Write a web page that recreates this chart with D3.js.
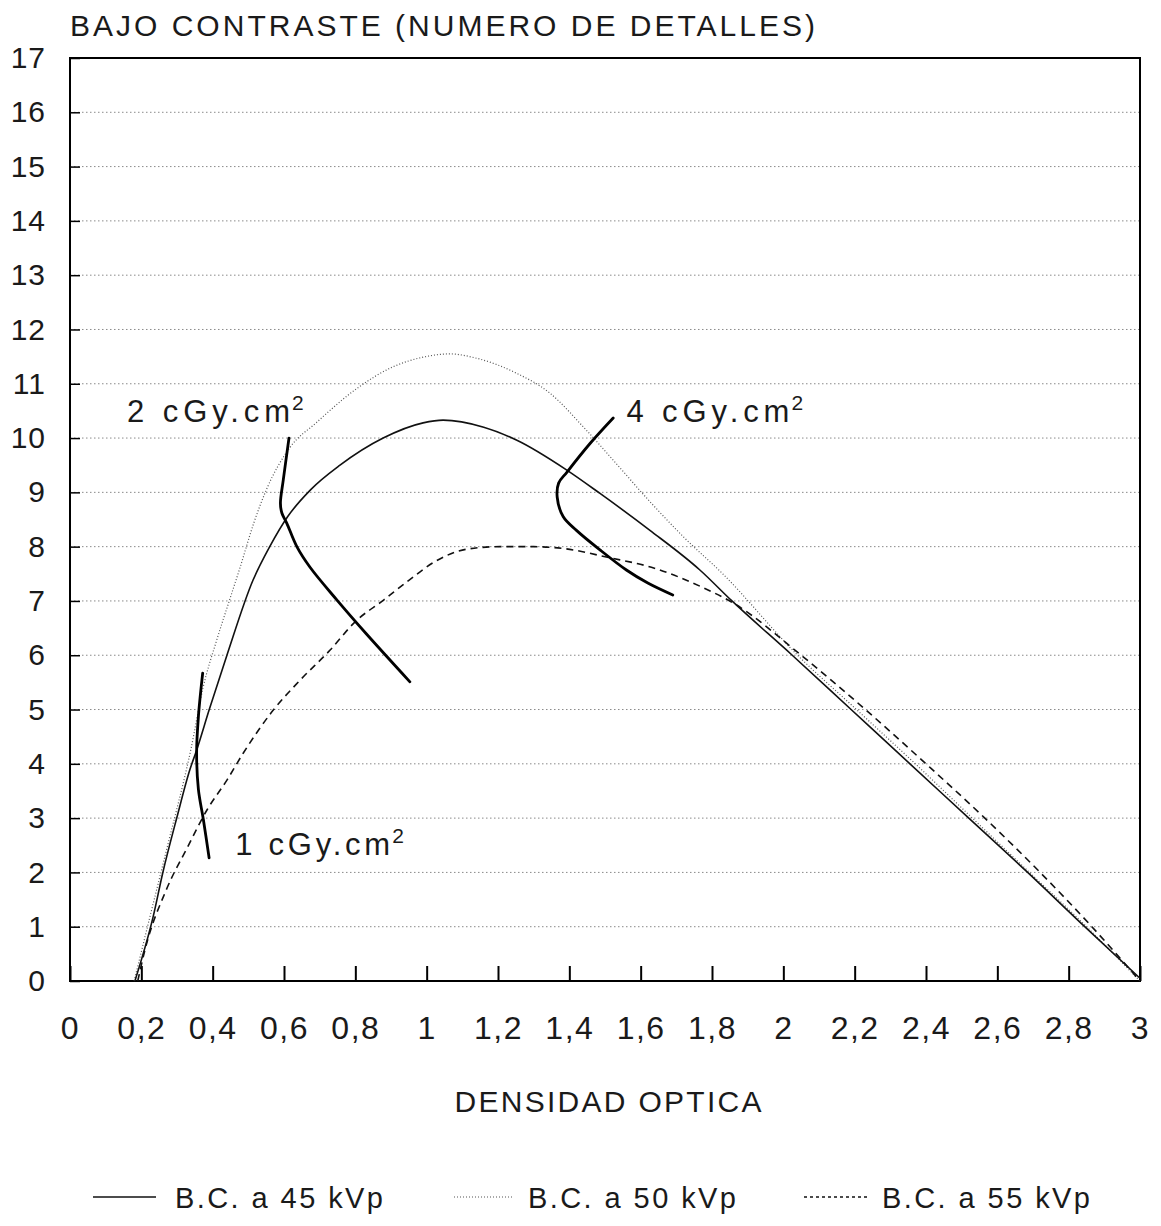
<!DOCTYPE html>
<html>
<head>
<meta charset="utf-8">
<script src="https://cdn.jsdelivr.net/npm/d3@7"></script>
<style>
  html, body { margin: 0; padding: 0; background: #fff; }
  svg { display: block; }
  text { font-family: "Liberation Sans", Arial, sans-serif; fill: #1a1a1a; }
</style>
</head>
<body>
<svg id="chart" width="1161" height="1226"></svg>
<script>
// ---------- DATA ----------
const xTicks = [0, 0.2, 0.4, 0.6, 0.8, 1, 1.2, 1.4, 1.6, 1.8, 2, 2.2, 2.4, 2.6, 2.8, 3];
const yTicks = [0, 1, 2, 3, 4, 5, 6, 7, 8, 9, 10, 11, 12, 13, 14, 15, 16, 17];

// B.C. a 45 kVp (solid)
const kvp45 = [
  [0.182, 0], [0.233, 1.18], [0.26, 1.99], [0.30, 3.02], [0.336, 3.89], [0.355, 4.25],
  [0.39, 4.99], [0.44, 6.0], [0.513, 7.38], [0.56, 8.0], [0.61, 8.55], [0.675, 9.05],
  [0.757, 9.5], [0.878, 10.0], [0.99, 10.28], [1.046, 10.33], [1.16, 10.2], [1.253, 9.96],
  [1.393, 9.41], [1.486, 8.98], [1.626, 8.3], [1.766, 7.57], [1.856, 7.0], [2.025, 6.0],
  [2.19, 5.0], [2.355, 4.0], [2.52, 3.0], [2.685, 2.0], [2.845, 1.0], [3.0, 0.05]
];
// B.C. a 50 kVp (dotted)
const kvp50 = [
  [0.18, 0], [0.224, 1.18], [0.272, 2.45], [0.34, 4.3], [0.373, 5.4], [0.41, 6.25],
  [0.45, 7.07], [0.477, 7.62], [0.515, 8.43], [0.55, 9.04], [0.617, 9.83], [0.69, 10.28],
  [0.81, 10.94], [0.905, 11.31], [0.99, 11.49], [1.065, 11.55], [1.14, 11.47], [1.25, 11.2],
  [1.345, 10.83], [1.44, 10.2], [1.53, 9.54], [1.63, 8.8], [1.72, 8.18], [1.83, 7.5],
  [2.04, 6.0], [2.205, 5.0], [2.37, 4.0], [2.53, 3.0], [2.69, 2.0], [2.85, 1.0], [3.0, 0.0]
];
// B.C. a 55 kVp (dashed)
const kvp55 = [
  [0.19, 0], [0.21, 0.57], [0.27, 1.68], [0.33, 2.47], [0.384, 3.15], [0.44, 3.7],
  [0.486, 4.2], [0.57, 4.99], [0.645, 5.54], [0.73, 6.1], [0.80, 6.62], [0.88, 7.02],
  [0.95, 7.38], [1.03, 7.75], [1.11, 7.95], [1.205, 8.0], [1.3, 8.0], [1.39, 7.96],
  [1.51, 7.8], [1.63, 7.62], [1.77, 7.26], [1.86, 6.96], [2.05, 6.0], [2.23, 5.0],
  [2.40, 4.0], [2.565, 3.0], [2.72, 2.0], [2.865, 1.0], [3.0, 0.0]
];
// iso-dose curves
const dose1 = [[0.372, 5.67], [0.36, 4.87], [0.355, 4.2], [0.36, 3.53], [0.374, 2.97], [0.39, 2.27]];
const dose2 = [[0.614, 10.0], [0.598, 9.23], [0.59, 8.8], [0.594, 8.62], [0.608, 8.43], [0.636, 8.0],
  [0.673, 7.62], [0.748, 7.02], [0.83, 6.4], [0.953, 5.51]];
const dose4 = [[1.523, 10.37], [1.458, 9.9], [1.393, 9.37], [1.37, 9.17], [1.366, 8.91], [1.383, 8.55],
  [1.42, 8.3], [1.486, 7.94], [1.56, 7.57], [1.62, 7.33], [1.69, 7.11]];

const doseLabels = [
  { text: "2 cGy.cm", sup: "2", x: 0.16, y: 10.3, len: 163 },
  { text: "4 cGy.cm", sup: "2", x: 1.56, y: 10.3, len: 163 },
  { text: "1 cGy.cm", sup: "2", x: 0.463, y: 2.32, len: 155 }
];
const legendItems = ["B.C. a 45 kVp", "B.C. a 50 kVp", "B.C. a 55 kVp"];
const titleText = "BAJO CONTRASTE (NUMERO DE DETALLES)";
const xTitle = "DENSIDAD OPTICA";

// ---------- CHART ----------
const svg = d3.select("#chart");
svg.append("rect").attr("width", 1161).attr("height", 1226).attr("fill", "#fff");

const mLeft = 70, mRight = 1140, mTop = 58, mBottom = 981;
const x = d3.scaleLinear().domain([0, 3]).range([mLeft, mRight]);
const y = d3.scaleLinear().domain([0, 17]).range([mBottom, mTop]);

// grid lines
svg.append("g").selectAll("line")
  .data(yTicks.filter(d => d > 0 && d < 17))
  .join("line")
  .attr("x1", mLeft).attr("x2", mRight)
  .attr("y1", d => y(d)).attr("y2", d => y(d))
  .attr("stroke", "#8a8a8a").attr("stroke-width", 1)
  .attr("stroke-dasharray", "1.5,2.5");

// axes
const fmt = d => String(+d.toFixed(1)).replace(".", ",");
const yAxis = svg.append("g").attr("transform", `translate(${mLeft},0)`)
  .call(d3.axisLeft(y).tickValues(yTicks).tickSize(-10).tickPadding(24).tickFormat(d => d));
yAxis.select(".domain").remove();
yAxis.selectAll(".tick line").attr("stroke", "#000").attr("stroke-width", 1.5);
yAxis.selectAll("text").attr("font-size", 30).attr("letter-spacing", 1)
  .style("font-family", '"Liberation Sans", Arial, sans-serif').attr("fill", "#1a1a1a");

const xAxis = svg.append("g").attr("transform", `translate(0,${mBottom})`)
  .call(d3.axisBottom(x).tickValues(xTicks).tickSize(-15).tickPadding(35).tickFormat(fmt));
xAxis.select(".domain").remove();
xAxis.selectAll(".tick line").attr("stroke", "#000").attr("stroke-width", 2);
xAxis.selectAll("text").attr("font-size", 32).attr("letter-spacing", 1.5)
  .style("font-family", '"Liberation Sans", Arial, sans-serif').attr("fill", "#1a1a1a");

// frame
svg.append("rect").attr("x", mLeft).attr("y", mTop)
  .attr("width", mRight - mLeft).attr("height", mBottom - mTop)
  .attr("fill", "none").attr("stroke", "#000").attr("stroke-width", 2);

// curves
const lineM = d3.line().x(d => x(d[0])).y(d => y(d[1])).curve(d3.curveMonotoneX);
const lineC = d3.line().x(d => x(d[0])).y(d => y(d[1])).curve(d3.curveCatmullRom.alpha(0.5));

svg.append("path").datum(kvp50).attr("d", lineM)
  .attr("fill", "none").attr("stroke", "#555").attr("stroke-width", 1.2).attr("stroke-dasharray", "1,2");
svg.append("path").datum(kvp55).attr("d", lineM)
  .attr("fill", "none").attr("stroke", "#111").attr("stroke-width", 1.6).attr("stroke-dasharray", "7,5");
svg.append("path").datum(kvp45).attr("d", lineM)
  .attr("fill", "none").attr("stroke", "#111").attr("stroke-width", 1.6);

[dose1, dose2, dose4].forEach(dd => {
  svg.append("path").datum(dd).attr("d", lineC)
    .attr("fill", "none").attr("stroke", "#000").attr("stroke-width", 2.8)
    .attr("stroke-linecap", "round").attr("stroke-linejoin", "round");
});

// dose labels
doseLabels.forEach(l => {
  const bx = x(l.x), by = y(l.y);
  svg.append("text").attr("x", bx).attr("y", by)
    .attr("font-size", 31).attr("textLength", l.len).attr("lengthAdjust", "spacing")
    .text(l.text);
  svg.append("text").attr("x", bx + l.len + 2).attr("y", by - 12)
    .attr("font-size", 21).text(l.sup);
});

// title
svg.append("text").attr("x", 70).attr("y", 36).attr("font-size", 30)
  .attr("textLength", 745).attr("lengthAdjust", "spacing").text(titleText);

// x axis title
svg.append("text").attr("x", 608).attr("y", 1112).attr("font-size", 30)
  .attr("text-anchor", "middle").attr("textLength", 307).attr("lengthAdjust", "spacing").text(xTitle);

// legend
const legY = 1197;
const legPos = [
  { x1: 93, x2: 156, tx: 175, dash: null, stroke: "#111", w: 1.6 },
  { x1: 454, x2: 513, tx: 528, dash: "1,2", stroke: "#555", w: 1.2 },
  { x1: 804, x2: 867, tx: 882, dash: "3,3", stroke: "#111", w: 1.6 }
];
legendItems.forEach((t, i) => {
  const p = legPos[i];
  svg.append("line").attr("x1", p.x1).attr("x2", p.x2).attr("y1", legY).attr("y2", legY)
    .attr("stroke", p.stroke).attr("stroke-width", p.w).attr("stroke-dasharray", p.dash);
  svg.append("text").attr("x", p.tx).attr("y", legY + 11).attr("font-size", 29)
    .attr("textLength", 208).attr("lengthAdjust", "spacing").text(t);
});
</script>
</body>
</html>
